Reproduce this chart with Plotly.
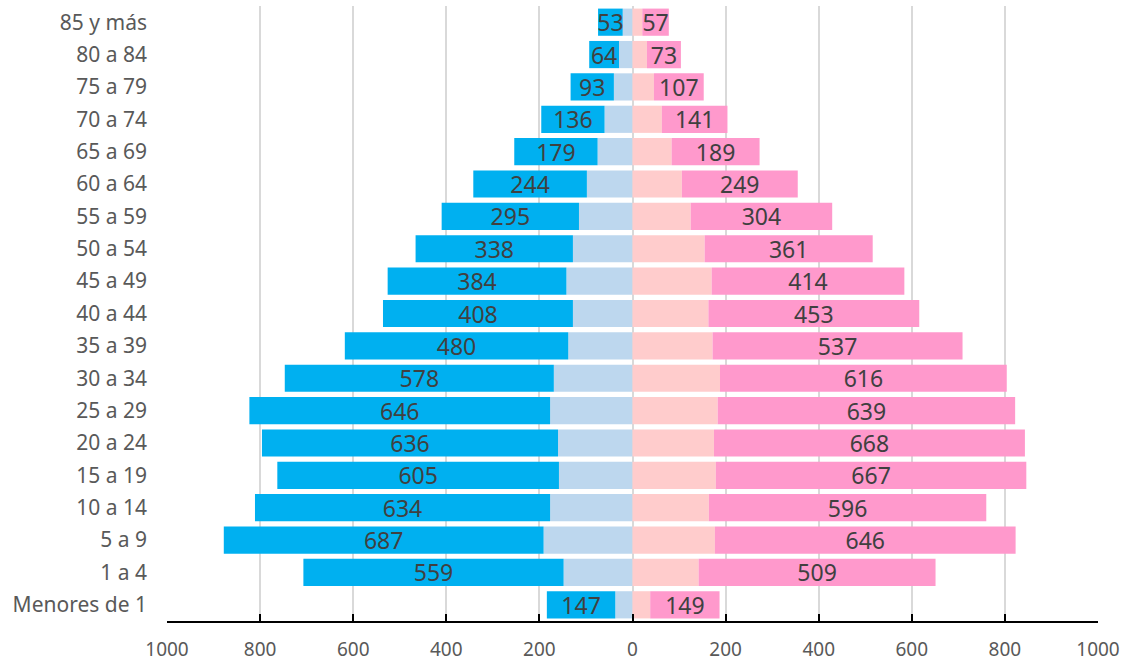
import plotly.graph_objects as go

grupos = ['Menores de 1', '1 a 4', '5 a 9', '10 a 14', '15 a 19', '20 a 24', '25 a 29',
          '30 a 34', '35 a 39', '40 a 44', '45 a 49', '50 a 54', '55 a 59', '60 a 64',
          '65 a 69', '70 a 74', '75 a 79', '80 a 84', '85 y más']

# inner (light) and outer (dark, labelled) parts of each bar
hombres_claro = [37, 148, 191, 177, 158, 160, 177, 169, 138, 128, 142, 128, 115, 98, 75, 60, 40, 29, 21]
hombres_oscuro = [147, 559, 687, 634, 605, 636, 646, 578, 480, 408, 384, 338, 295, 244, 179, 136, 93, 64, 53]
mujeres_claro = [38, 142, 177, 164, 179, 175, 183, 188, 172, 163, 170, 155, 125, 106, 84, 63, 46, 31, 21]
mujeres_oscuro = [149, 509, 646, 596, 667, 668, 639, 616, 537, 453, 414, 361, 304, 249, 189, 141, 107, 73, 57]

ticks = [-1000, -800, -600, -400, -200, 0, 200, 400, 600, 800, 1000]

fig = go.Figure()
fig.add_trace(go.Bar(y=grupos, x=[-v for v in hombres_claro], orientation='h',
                     marker=dict(color='#BDD7EE', line=dict(width=0)), hoverinfo='skip'))
fig.add_trace(go.Bar(y=grupos, x=[-v for v in hombres_oscuro], orientation='h',
                     marker=dict(color='#00B0F0', line=dict(width=0)),
                     text=hombres_oscuro, textposition='inside', insidetextanchor='middle',
                     textangle=0, textfont=dict(color='#404040', size=23)))
fig.add_trace(go.Bar(y=grupos, x=mujeres_claro, orientation='h',
                     marker=dict(color='#FFCCCC', line=dict(width=0)), hoverinfo='skip'))
fig.add_trace(go.Bar(y=grupos, x=mujeres_oscuro, orientation='h',
                     marker=dict(color='#FF99CC', line=dict(width=0)),
                     text=mujeres_oscuro, textposition='inside', insidetextanchor='middle',
                     textangle=0, textfont=dict(color='#404040', size=23)))

fig.update_layout(
    barmode='relative', bargap=0.16, showlegend=False,
    width=1122, height=664, margin=dict(l=167, r=24, t=6, b=43),
    plot_bgcolor='white', paper_bgcolor='white',
    font=dict(family='Noto Sans, Open Sans, sans-serif', color='#595959'),
    uniformtext=dict(minsize=23, mode='show'),
    xaxis=dict(range=[-1000, 1000], tickvals=ticks, ticktext=[str(abs(t)) for t in ticks],
               automargin=False,
               showgrid=True, gridcolor='#D9D9D9', gridwidth=1.5,
               zeroline=True, zerolinecolor='#D9D9D9', zerolinewidth=1.5,
               showline=True, linecolor='black', linewidth=2,
               ticks='inside', ticklen=7, tickcolor='black', tickwidth=2,
               tickfont=dict(size=19, color='#595959'), ticklabelstandoff=10),
    yaxis=dict(categoryorder='array', categoryarray=grupos, showgrid=False, automargin=False,
               tickfont=dict(size=21, color='#595959'), ticks='', ticklabelstandoff=19),
)

fig.write_html("out.html", config={'displayModeBar': False},
               post_script="document.body.style.margin='0';")
